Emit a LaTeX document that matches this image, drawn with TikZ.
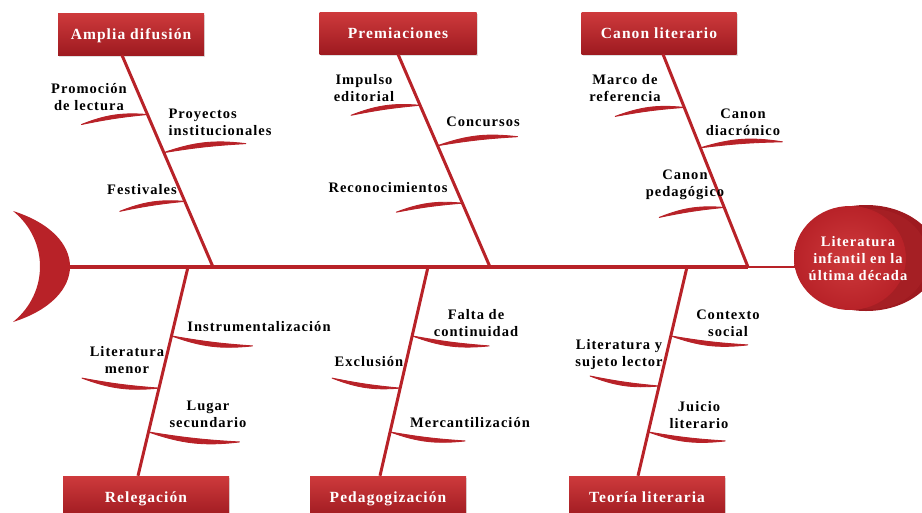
\documentclass[tikz,border=0pt]{standalone}
\usepackage{fontspec}
\setmainfont{Liberation Serif}[LetterSpace=7]
\usetikzlibrary{calc, shadows}

\definecolor{fishred}{RGB}{184,34,40}
\definecolor{boxtop}{RGB}{206,58,60}
\definecolor{boxbot}{RGB}{158,26,32}

\tikzset{
  headbox/.style={rectangle, top color=boxtop, bottom color=boxbot, text=white,
    font=\bfseries\fontsize{15.5}{18}\selectfont, minimum height=42pt,
    text height=13pt, text depth=3pt,
    drop shadow={opacity=0.25, shadow xshift=1pt, shadow yshift=-1.5pt}},
  cause/.style={font=\bfseries\fontsize{14.5}{17}\selectfont, align=center, inner sep=0pt},
  bone/.style={draw=fishred, line width=3pt},
  rib/.style={fill=fishred, draw=fishred, line width=0.9pt, line join=round, line cap=round},
}
% tapered ribs, bulging left or right of their direction
\newcommand{\ribL}[2]{\filldraw[rib] (#1) to[bend left=13] (#2) to[bend right=3] (#1);}
\newcommand{\ribR}[2]{\filldraw[rib] (#1) to[bend right=13] (#2) to[bend left=3] (#1);}

\begin{document}
\begin{tikzpicture}[x=1pt, y=1pt]
  \useasboundingbox (0,0) rectangle (922,-512);

  % main categories
  \node[headbox, minimum width=146pt] (amplia) at (131,-34) {Amplia difusión};
  \node[headbox, minimum width=157pt] (premios) at (398,-33) {Premiaciones};
  \node[headbox, minimum width=155pt] (canon) at (659,-33) {Canon literario};
  \node[headbox, minimum width=166pt] (relega) at (146,-497) {Relegación};
  \node[headbox, minimum width=156pt] (pedago) at (388,-497) {Pedagogización};
  \node[headbox, minimum width=156pt] (teoria) at (647,-497) {Teoría literaria};

  \coordinate (t1) at ([xshift=-9pt]amplia.south);
  \coordinate (t2) at (premios.south);
  \coordinate (t3) at ([xshift=4pt]canon.south);
  \coordinate (b1) at ([xshift=-8pt]relega.north);
  \coordinate (b2) at ([xshift=-8pt]pedago.north);
  \coordinate (b3) at ([xshift=-9pt]teoria.north);
  \coordinate (s1) at (213,-267);
  \coordinate (s2) at (490,-267);
  \coordinate (s3) at (748,-267);
  \coordinate (s4) at (188,-267);
  \coordinate (s5) at (428,-267);
  \coordinate (s6) at (687,-267);
  \coordinate (tail) at (66,-267);
  \coordinate (nose) at (805,-267);

  % tail
  \fill[fishred] (13,-211) .. controls (89,-235) and (89,-298) .. (13,-322)
    .. controls (49,-293) and (49,-240) .. (13,-211);

  % spine and bones
  \draw[bone, line width=3.5pt] (tail) -- (s3);
  \draw[fishred, line width=2pt] (s3) -- (nose);
  \foreach \a/\b in {t1/s1, t2/s2, t3/s3, s4/b1, s5/b2, s6/b3}
    \draw[bone] (\a) -- (\b);

  % ribs
  \foreach \i/\a/\b/\pos/\dx/\dy in {
      1/t1/s1/0.28/-66/-10, 2/t1/s1/0.46/82/9, 3/t1/s1/0.69/-65/-10,
      4/t2/s2/0.24/-69/-10, 5/t2/s2/0.43/80/9, 6/t2/s2/0.70/-66/-9,
      7/t3/s3/0.25/-69/-9, 8/t3/s3/0.44/82/6, 9/t3/s3/0.72/-65/-10,
      10/s4/b1/0.33/81/-10, 11/s4/b1/0.58/-77/10, 12/s4/b1/0.79/91/-10,
      13/s5/b2/0.33/77/-10, 14/s5/b2/0.58/-68/10, 15/s5/b2/0.79/75/-9,
      16/s6/b3/0.33/77/-9, 17/s6/b3/0.57/-69/10, 18/s6/b3/0.79/77/-9} {
    \coordinate (a\i) at ($(\a)!\pos!(\b)$);
    \coordinate (e\i) at ($(a\i)+(\dx,\dy)$);
  }
  \foreach \i in {1,3,4,6,7,9,10,12,13,15,16,18} {\ribR{a\i}{e\i}}
  \foreach \i in {2,5,8,11,14,17} {\ribL{a\i}{e\i}}

  % head
  \fill[boxbot] (866,-258) ellipse [x radius=72pt, y radius=53pt];
  \fill[fishred!90!black] (872,-259) ellipse [x radius=56pt, y radius=50pt];
  \shade[inner color=boxtop, outer color=fishred] (850,-258) ellipse [x radius=56pt, y radius=52pt];
  \node[cause, text=white] (head) at (858,-259) {Literatura\\infantil en la\\última década};

  % causes
  \node[cause] (promo) at (89,-97) {Promoción\\de lectura};
  \node[cause, align=left] (proyec) at (220,-122) {Proyectos\\institucionales};
  \node[cause] (fest) at (142,-190) {Festivales};
  \node[cause] (impul) at (364,-88) {Impulso\\editorial};
  \node[cause] (concur) at (483,-122) {Concursos};
  \node[cause] (recon) at (388,-188) {Reconocimientos};
  \node[cause] (marco) at (625,-88) {Marco de\\referencia};
  \node[cause] (diacr) at (743,-122) {Canon\\diacrónico};
  \node[cause] (pedag) at (685,-185) {Canon\\pedagógico};
  \node[cause] (instru) at (259,-327) {Instrumentalización};
  \node[cause] (menor) at (127,-360) {Literatura\\menor};
  \node[cause] (lugar) at (208,-414) {Lugar\\secundario};
  \node[cause] (falta) at (476,-323) {Falta de\\continuidad};
  \node[cause] (exclu) at (369,-362) {Exclusión};
  \node[cause] (merca) at (470,-423) {Mercantilización};
  \node[cause] (contex) at (728,-323) {Contexto\\social};
  \node[cause] (sujeto) at (619,-355) {Literatura y\\sujeto lector};
  \node[cause] (juicio) at (699,-415) {Juicio\\literario};
\end{tikzpicture}
\end{document}
